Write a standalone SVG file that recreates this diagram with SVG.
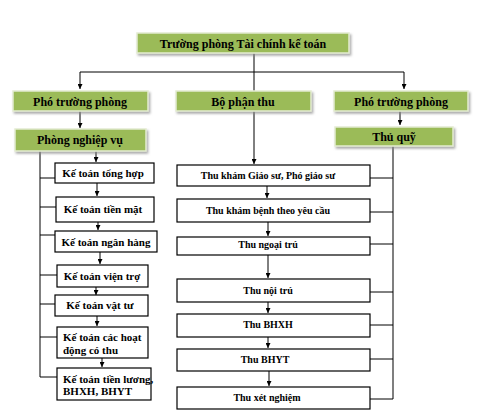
<svg xmlns="http://www.w3.org/2000/svg" width="481" height="420" viewBox="0 0 481 420">
<defs>
<marker id="ah" viewBox="0 0 8 8" refX="8" refY="4" markerWidth="5" markerHeight="5" orient="auto" markerUnits="userSpaceOnUse"><path d="M0,0 L8,4 L0,8 Z" fill="#000"/></marker>
<filter id="sh" x="-5%" y="-20%" width="115%" height="160%"><feDropShadow dx="1.5" dy="2" stdDeviation="0.8" flood-color="#888" flood-opacity="0.7"/></filter>
</defs>
<style>
text{font-family:"Liberation Serif","Times New Roman",serif;font-weight:bold;fill:#000;}
.g{fill:#9bbb59;stroke:#e4ecd2;stroke-width:1.5;filter:url(#sh);}
.w{fill:#fff;stroke:#000;stroke-width:1.2;}
.c{fill:none;stroke:#000;stroke-width:1;}
.r{fill:none;stroke:#555;stroke-width:1.5;}
.a{fill:none;stroke:#000;stroke-width:1;marker-end:url(#ah);}
.t12{font-size:12px;text-anchor:middle;}
.t11{font-size:11px;text-anchor:middle;}
.t10{font-size:10px;text-anchor:middle;}
.l11{font-size:11px;}
</style>
<rect width="481" height="420" fill="#fff"/>
<g id="connectors">
<path class="c" d="M254,53 V91"/>
<path class="c" d="M80,72 H404"/>
<path class="a" d="M80,72 V89"/>
<path class="a" d="M404,72 V89"/>
<path class="a" d="M80,111 V128"/>
<path class="a" d="M400,111 V125"/>
<path class="a" d="M254,111 V164"/>
<path class="c" d="M40,151 V377"/>
<path class="c" d="M40,178 H55 M40,207 H56 M40,235 H55 M40,275 H57 M40,304 H55 M40,337 H57 M40,377 H57"/>
<path class="a" d="M96,151 V162"/>
<path class="a" d="M97,183 V196"/>
<path class="a" d="M98,222 V230"/>
<path class="a" d="M100,252 V264"/>
<path class="a" d="M96,287 V295"/>
<path class="a" d="M97,316 V326"/>
<path class="a" d="M102,358 V367"/>
<path class="r" d="M393,146 V399"/>
<path class="c" d="M370,178 H393 M370,212 H393 M370,244 H393 M370,292 H393 M370,325 H393 M370,359 H393 M370,399 H393"/>
<path class="a" d="M267,186 V198"/>
<path class="a" d="M268,222 V236"/>
<path class="a" d="M268,255 V278"/>
<path class="a" d="M268,302 V313"/>
<path class="a" d="M268,337 V348"/>
<path class="a" d="M269,371 V386"/>
</g>
<g id="n-top"><rect class="g" x="137" y="33" width="212" height="20"/><text class="t12" x="243" y="47.5">Trường phòng Tài chính kế toán</text></g>
<g id="n-pho1"><rect class="g" x="13" y="91" width="135" height="20"/><text class="t12" x="80" y="105.5">Phó trường phòng</text></g>
<g id="n-bpt"><rect class="g" x="176" y="91" width="135" height="20"/><text class="t12" x="243" y="105.5">Bộ phận thu</text></g>
<g id="n-pho2"><rect class="g" x="334" y="91" width="134" height="20"/><text class="t12" x="401" y="105.5">Phó trường phòng</text></g>
<g id="n-pnv"><rect class="g" x="15" y="129" width="131" height="22"/><text class="t12" x="80" y="144">Phòng nghiệp vụ</text></g>
<g id="n-tq"><rect class="g" x="335" y="127" width="118" height="19"/><text class="t12" x="394" y="141">Thủ quỹ</text></g>
<g id="n-kt1"><rect class="w" x="55" y="163" width="99" height="20"/><text class="t11" x="103" y="177">Kế toán tổng hợp</text></g>
<g id="n-kt2"><rect class="w" x="56" y="197" width="98" height="25"/><text class="t11" x="103" y="213">Kế toán tiền mặt</text></g>
<g id="n-kt3"><rect class="w" x="55" y="231" width="102" height="21"/><text class="t11" x="106" y="245.5">Kế toán ngân hàng</text></g>
<g id="n-kt4"><rect class="w" x="57" y="265" width="91" height="22"/><text class="t11" x="102" y="280">Kế toán viện trợ</text></g>
<g id="n-kt5"><rect class="w" x="55" y="295" width="93" height="21"/><text class="t11" x="100" y="309">Kế toán vật tư</text></g>
<g id="n-kt6"><rect class="w" x="57" y="327" width="91" height="31"/><text class="l11" x="63" y="341">Kế toán các hoạt</text><text class="l11" x="63" y="354">động có thu</text></g>
<g id="n-kt7"><rect class="w" x="57" y="368" width="94" height="32"/><text class="l11" x="63" y="383">Kế toán tiền lương,</text><text class="l11" x="63" y="395">BHXH, BHYT</text></g>
<g id="n-t1"><rect class="w" x="177" y="165" width="193" height="21"/><text class="t10" x="268" y="179">Thu khám Giáo sư, Phó giáo sư</text></g>
<g id="n-t2"><rect class="w" x="177" y="199" width="193" height="23"/><text class="t10" x="268" y="214">Thu khám bệnh theo yêu cầu</text></g>
<g id="n-t3"><rect class="w" x="177" y="237" width="193" height="18"/><text class="t10" x="268" y="248">Thu ngoại trú</text></g>
<g id="n-t4"><rect class="w" x="177" y="279" width="193" height="23"/><text class="t10" x="268" y="294">Thu nội trú</text></g>
<g id="n-t5"><rect class="w" x="177" y="314" width="193" height="23"/><text class="t10" x="268" y="328">Thu BHXH</text></g>
<g id="n-t6"><rect class="w" x="177" y="349" width="193" height="22"/><text class="t10" x="265" y="363">Thu BHYT</text></g>
<g id="n-t7"><rect class="w" x="177" y="387" width="193" height="22"/><text class="t10" x="267" y="401">Thu xét nghiệm</text></g>
</svg>
